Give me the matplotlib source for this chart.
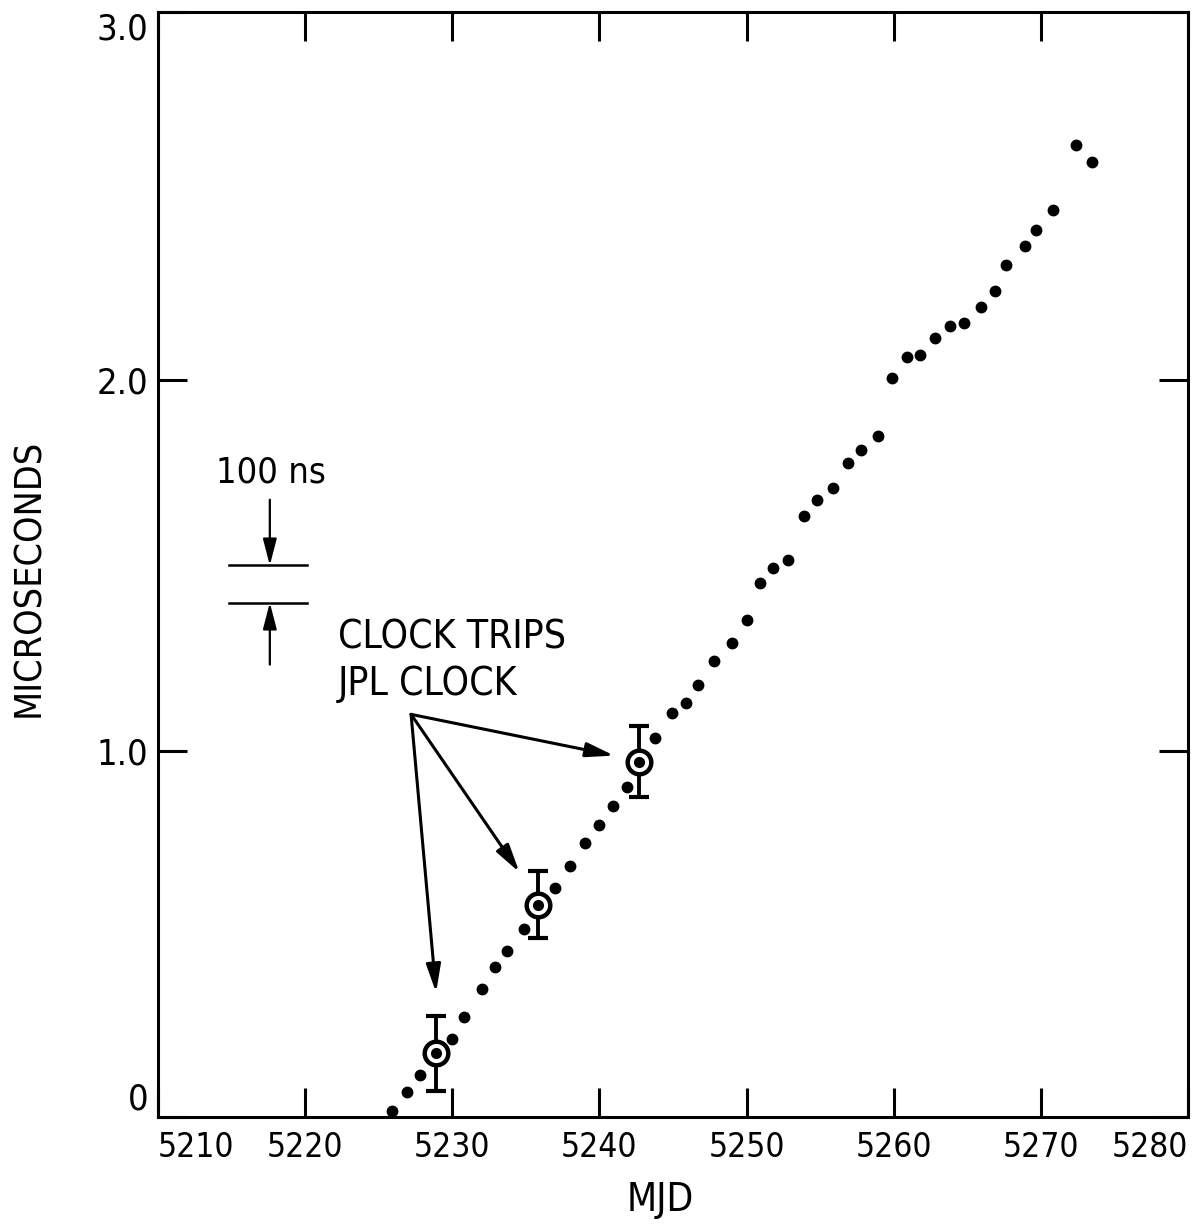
import matplotlib
matplotlib.use("Agg")
import matplotlib.pyplot as plt

plt.rcParams['font.family'] = ['DejaVu Sans']
plt.rcParams['font.stretch'] = 'condensed'

# clock offset readings (MJD, microseconds)
mjd = [5225.9, 5226.9, 5227.8, 5230.0, 5230.8, 5232.0, 5232.9, 5233.7, 5234.9,
       5237.0, 5238.0, 5239.0, 5240.0, 5240.9, 5241.9, 5243.8, 5244.9, 5245.9,
       5246.7, 5247.8, 5249.0, 5250.0, 5250.9, 5251.8, 5252.8, 5253.9, 5254.8,
       5255.9, 5256.9, 5257.8, 5258.9, 5259.9, 5260.9, 5261.8, 5262.8, 5263.8,
       5264.8, 5265.9, 5266.9, 5267.6, 5268.9, 5269.7, 5270.8, 5272.4, 5273.5]
usec = [0.031, 0.081, 0.129, 0.224, 0.284, 0.359, 0.420, 0.463, 0.520,
        0.631, 0.691, 0.752, 0.800, 0.853, 0.903, 1.036, 1.103, 1.129,
        1.179, 1.242, 1.290, 1.352, 1.452, 1.493, 1.514, 1.633, 1.676,
        1.709, 1.777, 1.811, 1.849, 2.005, 2.060, 2.067, 2.113, 2.144,
        2.154, 2.196, 2.239, 2.310, 2.361, 2.404, 2.458, 2.632, 2.586]

# clock trips with JPL clock
trip_mjd = [5228.9, 5235.8, 5242.7]
trip_usec = [0.186, 0.587, 0.972]
trip_err = [0.10, 0.09, 0.095]

xticks = [5210, 5220, 5230, 5240, 5250, 5260, 5270, 5280]
yticks = [0.015, 1.0, 2.0, 2.99]
ytick_labels = ["0", "1.0", "2.0", "3.0"]

fig = plt.figure(figsize=(12.02, 12.24), dpi=100)
ax = fig.add_axes([158/1202, 1 - 1117/1224, 1030/1202, 1105/1224])

ax.plot(mjd, usec, 'o', color='black', markersize=7.5, linestyle='none')

ax.errorbar(trip_mjd, trip_usec, yerr=trip_err, fmt='none', ecolor='black',
            elinewidth=2.8, capsize=7.5, capthick=3, zorder=2)
ax.plot(trip_mjd, trip_usec, 'o', markersize=17, markerfacecolor='white',
        markeredgecolor='black', markeredgewidth=3.2, zorder=3)
ax.plot(trip_mjd, trip_usec, 'o', color='black', markersize=7, zorder=4)

# 100 ns scale bar
ax.plot([5214.8, 5220.1], [1.5, 1.5], color='black', lw=1.8)
ax.plot([5214.8, 5220.1], [1.4, 1.4], color='black', lw=1.8)
head = '-|>,head_length=0.85,head_width=0.22'
ax.annotate("", xy=(5217.6, 1.5), xytext=(5217.6, 1.677),
            arrowprops=dict(arrowstyle=head, color='black', lw=1.6, mutation_scale=19,
                            shrinkA=0, shrinkB=0))
ax.annotate("", xy=(5217.6, 1.4), xytext=(5217.6, 1.233),
            arrowprops=dict(arrowstyle=head, color='black', lw=1.6, mutation_scale=19,
                            shrinkA=0, shrinkB=0))
ax.text(5217.7, 1.75, "100 ns", ha='center', va='center', fontsize=26)

ax.text(5222.2, 1.244, "CLOCK TRIPS\nJPL CLOCK", ha='left', va='center',
        fontsize=28, linespacing=1.3)

for tx, ty in [(5241.0, 0.988), (5234.56, 0.674), (5228.9, 0.35)]:
    ax.annotate("", xy=(tx, ty), xytext=(5227.2, 1.099),
                arrowprops=dict(arrowstyle=head, color='black', lw=2.2, mutation_scale=20,
                                shrinkA=0, shrinkB=0))

ax.set_xlim(5210, 5280)
ax.set_ylim(0.015, 2.99)
ax.set_xticks(xticks)
ax.set_xticklabels([str(t) for t in xticks])
ax.set_yticks(yticks)
ax.set_yticklabels(ytick_labels)
ax.tick_params(direction='in', length=21, width=2.2, top=True, right=True)
ax.tick_params(axis='x', pad=10, labelsize=24)
ax.tick_params(axis='y', pad=7, labelsize=26)
xl = ax.get_xticklabels()
xl[0].set_ha('left')
xl[-1].set_ha('right')
yl = ax.get_yticklabels()
yl[0].set_va('bottom')
yl[-1].set_va('top')
for s in ax.spines.values():
    s.set_linewidth(2.2)

fig.text(29/1202, 1 - 578/1224, "MICROSECONDS", rotation=90, ha='center',
         va='center', fontsize=27)
fig.text(660/1202, 1 - 1200/1224, "MJD", ha='center', va='center', fontsize=28)

fig.savefig("out.png", dpi=100)
